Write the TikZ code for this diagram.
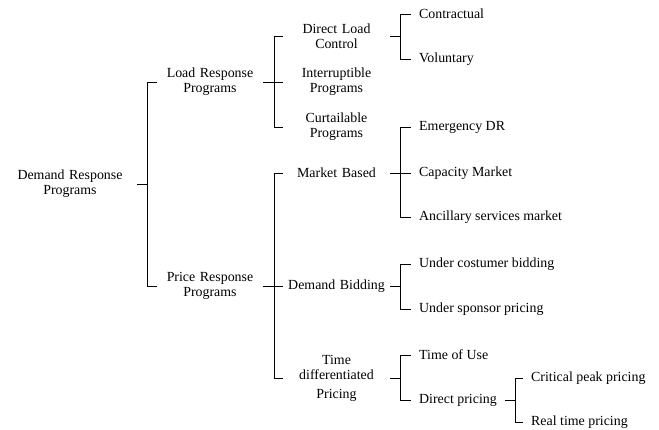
\documentclass[tikz,border=0pt]{standalone}
\usepackage{fontspec}
\setmainfont{Liberation Serif}
\usepackage{tikz}
\usetikzlibrary{positioning,calc}

\begin{document}
\begin{tikzpicture}[
    x=1pt, y=-1pt,
    every node/.style={font=\fontsize{13.9}{15}\selectfont, inner ysep=1pt},
    top/.style={align=center, text width=134pt, inner xsep=0pt},
    prog/.style={align=center, text width=106pt, inner xsep=0pt},
    sub/.style={align=center, text width=107pt, inner xsep=0pt},
    leaf/.style={anchor=west, inner xsep=8pt},
    link/.style={line width=0.8pt}
]
\useasboundingbox (0,0) rectangle (659,430);

% first levels
\node[top] (root) at (70,184) {Demand Response\\Programs};
\node[prog] (load) at (210,82) {Load Response\\Programs};
\node[prog] (price) at (210,286) {Price Response\\Programs};

\node[sub] (dlc) at (336.5,36) {Direct Load\\Control};
\node[sub] (interr) at (336.5,82) {Interruptible\\Programs};
\node[sub] (curt) at (336.5,127) {Curtailable\\Programs};
\node[sub] (market) at (336.5,173) {Market Based};
\node[sub] (bidding) at (336.5,286) {Demand Bidding};
\node[sub] (timediff) at (336.5,378) {Time\\differentiated\\[4pt]Pricing};

% leaves
\node[leaf] (contract) at (411,14) {Contractual};
\node[leaf] (volunt) at (411,59) {Voluntary};
\node[leaf] (emerg) at (411,127) {Emergency DR};
\node[leaf] (capac) at (411,173) {Capacity Market};
\node[leaf] (ancill) at (411,217) {Ancillary services market};
\node[leaf] (costumer) at (411,264) {Under costumer bidding};
\node[leaf] (sponsor) at (411,309) {Under sponsor pricing};
\node[leaf] (tou) at (411,355) {Time of Use};
\node[leaf] (dprice) at (411,400) {Direct pricing};
\node[leaf] (crit) at (523,378) {Critical peak pricing};
\node[leaf] (realtime) at (523,422) {Real time pricing};

% brackets
\draw[link] (root.east) -- ++(10,0) coordinate (j0);
\draw[link] (j0) |- (load.west);
\draw[link] (j0) |- (price.west);

\draw[link] (load.east) -- ++(11,0) coordinate (j1);
\draw[link] (j1) |- (dlc.west);
\draw[link] (j1) |- (interr.west);
\draw[link] (j1) |- (curt.west);

\draw[link] (price.east) -- ++(11,0) coordinate (j2);
\draw[link] (j2) |- (market.west);
\draw[link] (j2) |- (bidding.west);
\draw[link] (j2) |- (timediff.west);

\draw[link] (dlc.east) -- ++(10.5,0) coordinate (j3);
\draw[link] (j3) |- (contract.west);
\draw[link] (j3) |- (volunt.west);

\draw[link] (market.east) -- ++(10.5,0) coordinate (j4);
\draw[link] (j4) |- (emerg.west);
\draw[link] (j4) |- (capac.west);
\draw[link] (j4) |- (ancill.west);

\draw[link] (bidding.east) -- ++(10.5,0) coordinate (j5);
\draw[link] (j5) |- (costumer.west);
\draw[link] (j5) |- (sponsor.west);

\draw[link] (timediff.east) -- ++(10.5,0) coordinate (j6);
\draw[link] (j6) |- (tou.west);
\draw[link] (j6) |- (dprice.west);

\draw[link] (dprice.east) -- ++(10,0) coordinate (j7);
\draw[link] (j7) |- (crit.west);
\draw[link] (j7) |- (realtime.west);
\end{tikzpicture}
\end{document}
